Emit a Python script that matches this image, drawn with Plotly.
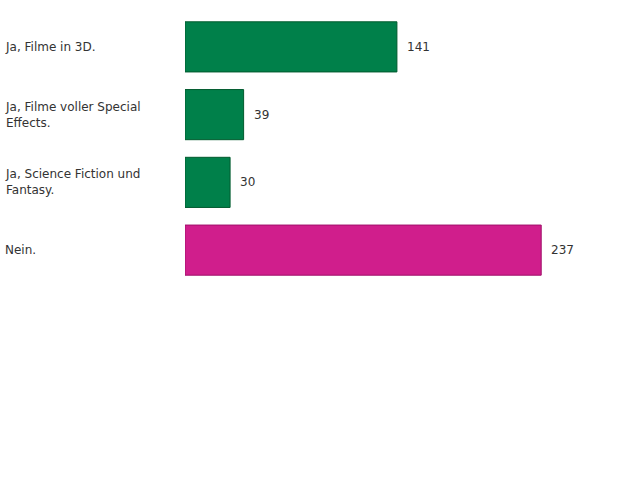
import plotly.graph_objects as go

categories = ["Ja, Filme in 3D.", "Ja, Filme voller Special<br>Effects.", "Ja, Science Fiction und<br>Fantasy.", "Nein."]
values = [141, 39, 30, 237]
fills = ["#00804a", "#00804a", "#00804a", "#d01e8c"]
borders = ["#005a2e", "#005a2e", "#005a2e", "#a0106a"]

ids = [str(i) for i in range(len(categories))]
L, R, W = 185, 55, 640
plot_w = W - L - R
xmax = plot_w / 1.503

fig = go.Figure(go.Bar(
    x=values, y=ids, orientation="h",
    marker=dict(color=fills, line=dict(color=borders, width=1)),
    hoverinfo="skip",
))

ann = []
for cid, cat, v in zip(ids, categories, values):
    ann.append(dict(x=v, y=cid, xref="x", yref="y", text=str(v), showarrow=False,
                    xanchor="left", xshift=8, font=dict(size=12, color="#333333",
                    family="DejaVu Sans")))
    ann.append(dict(x=-(L - 5) / plot_w, y=cid, xref="paper", yref="y", text=cat,
                    showarrow=False, xanchor="left", align="left", xshift=-2,
                    font=dict(size=12, color="#333333", family="DejaVu Sans")))

fig.update_layout(
    width=640, height=478,
    margin=dict(l=L, r=R, t=13, b=194, pad=0),
    paper_bgcolor="white", plot_bgcolor="white",
    bargap=0.26,
    showlegend=False,
    xaxis=dict(range=[0, xmax], visible=False, fixedrange=True),
    yaxis=dict(autorange="reversed", visible=False, fixedrange=True),
    annotations=ann,
    font=dict(family="DejaVu Sans"),
)
fig.write_html("out.html")
